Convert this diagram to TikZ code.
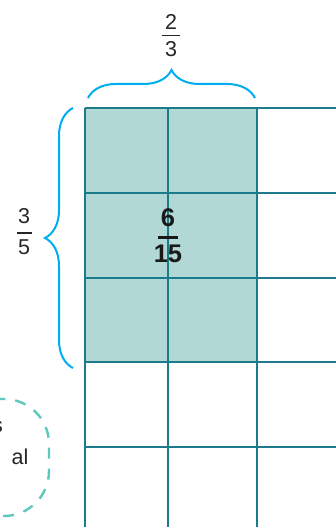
\documentclass[tikz,border=0pt]{standalone}
\usepackage{fontspec}
\setmainfont{Liberation Sans}
\usetikzlibrary{decorations.pathreplacing,positioning}

\begin{document}
\begin{tikzpicture}[
      x=1pt, y=1pt,
      gridline/.style={line width=2pt, gridteal},
      bracket/.style={line width=2pt, bracecyan, decorate,
        decoration={brace, amplitude=28pt}},
      fracnum/.style={font=\fontsize{21.5}{24}\selectfont, text=black!85, inner sep=0pt, anchor=base},
      fracbig/.style={font=\fontsize{25.5}{30}\selectfont\bfseries, text=black!90, inner sep=0pt, anchor=base},
    ]
    \definecolor{gridteal}{HTML}{1B7B8A}
    \definecolor{shadeteal}{HTML}{B2D8D5}
    \definecolor{bracecyan}{HTML}{00AEEF}
    \definecolor{dashteal}{HTML}{5CC8BE}

    \clip (0,0) rectangle (336,527);

    % shaded part: 2 of 3 columns, 3 of 5 rows
    \fill[shadeteal] (85,164.7) rectangle (256.7,418.7);
    \foreach \y in {418.7,334.3,249.3,164.7,80.3}
      \draw[gridline] (85,\y) -- (345,\y);
    \foreach \x in {85,168.3,256.7}
      \draw[gridline] (\x,418.7) -- (\x,-5);

    % braces
    \draw[bracket] (88,429) -- (255,429);
    \draw[bracket] (73,159) -- (73,419);

    % 2/3 above
    \node[fracnum] (twonum) at (171,497) {2};
    \node[fracnum] (twoden) at (171,470.3) {3};
    \draw[line width=1.2pt, black!85] (161.7,491.3) -- (180,491.3);

    % 3/5 left
    \node[fracnum] (threenum) at (24,303) {3};
    \node[fracnum] (threeden) at (24,272) {5};
    \draw[line width=1.2pt, black!85] (16.7,294) -- (31.7,294);

    % 6/15 in the shaded part
    \node[fracbig] (sixnum) at (168,300) {6};
    \node[fracbig] (sixden) at (168,264) {15};
    \draw[line width=2.8pt, black!90] (158,289.3) -- (178,289.3);

    % cut-off bubble on the left
    \draw[dashteal, line width=2.4pt, dash pattern=on 11pt off 10pt, rounded corners=45pt]
      (-100,11) rectangle (49,128);
    \node[fracnum, anchor=base east] (bubbleone) at (3,94) {s};
    \node[fracnum, anchor=base east] (bubbletwo) at (28.5,62) {al};
  \end{tikzpicture}
\end{document}
